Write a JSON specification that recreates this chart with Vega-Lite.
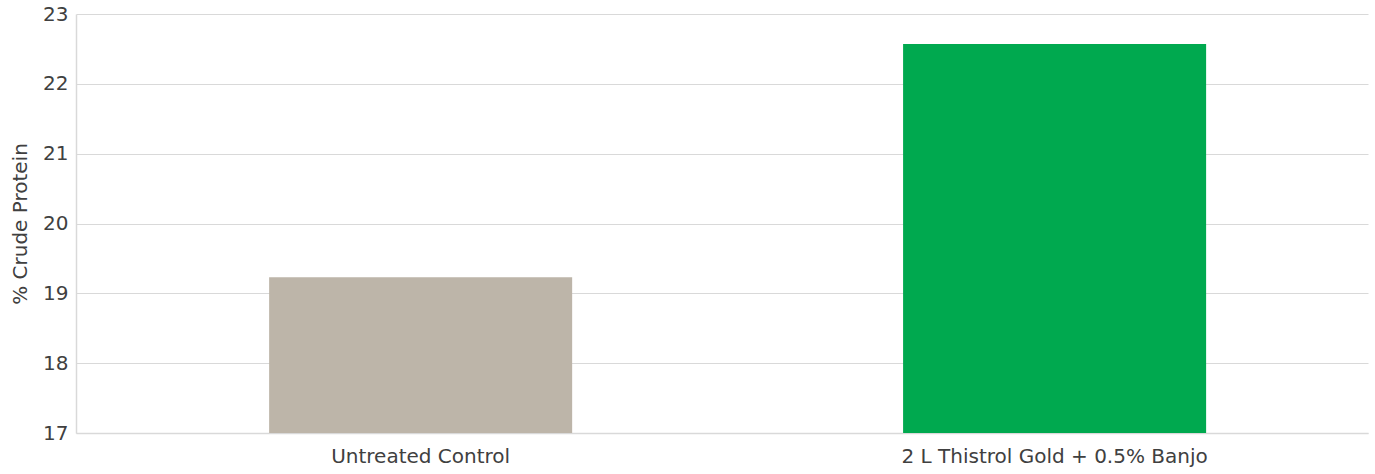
{
  "$schema": "https://vega.github.io/schema/vega-lite/v6.json",
  "autosize": {"type": "none"},
  "padding": {"left": 76, "top": 14, "right": 7, "bottom": 41},
  "width": 1292,
  "height": 419,
  "background": "white",
  "data": {"values": [
    {"treatment": "Untreated Control", "protein": 19.23},
    {"treatment": "2 L Thistrol Gold + 0.5% Banjo", "protein": 22.57}
  ]},
  "mark": {"type": "bar", "clip": true},
  "encoding": {
    "x": {
      "field": "treatment", "type": "nominal", "sort": null,
      "scale": {"paddingInner": 0.522, "paddingOuter": 0.28, "align": 0.544},
      "axis": {"title": null, "labelAngle": 0, "labelFontSize": 20, "labelColor": "#404040", "labelFont": "DejaVu Sans", "labelPadding": 13, "labelLimit": 600, "ticks": false, "domainColor": "#d9d9d9", "domainWidth": 1.5}
    },
    "y": {
      "field": "protein", "type": "quantitative",
      "scale": {"domain": [17, 23], "nice": false, "zero": false},
      "axis": {"title": "% Crude Protein", "titleFontSize": 20, "titleFontWeight": "normal", "titleColor": "#404040", "titleFont": "DejaVu Sans", "titlePadding": 12,
        "labelFontSize": 20, "labelColor": "#404040", "labelFont": "DejaVu Sans", "labelPadding": 8, "ticks": false,
        "values": [17, 18, 19, 20, 21, 22, 23], "gridColor": "#d9d9d9", "gridWidth": 1.2, "domainColor": "#d9d9d9", "domainWidth": 1.5}
    },
    "color": {
      "field": "treatment", "type": "nominal", "legend": null,
      "scale": {"domain": ["Untreated Control", "2 L Thistrol Gold + 0.5% Banjo"], "range": ["#BDB5A9", "#00A94F"]}
    }
  },
  "config": {"view": {"stroke": null}}
}
